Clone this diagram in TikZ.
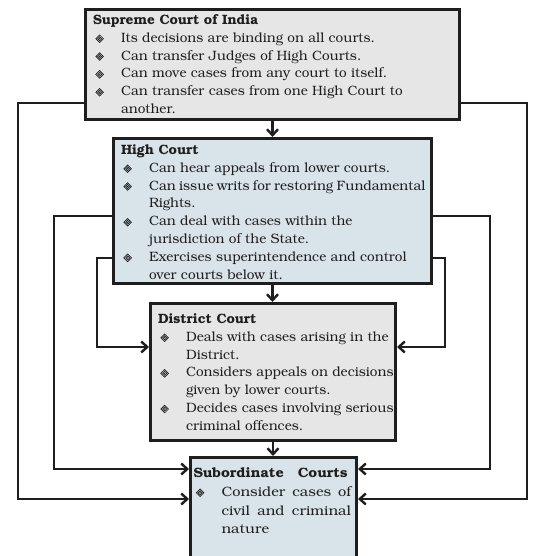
\documentclass[tikz,border=0pt]{standalone}
\usepackage[T1]{fontenc}
\usepackage{bookman}
\usepackage{graphicx}
\usetikzlibrary{arrows.meta,calc}
\definecolor{gbox}{HTML}{E6E6E6}
\definecolor{bbox}{HTML}{D9E3EA}
\definecolor{ink}{HTML}{1E1E1E}
\newcommand\diam{\tikz[baseline={(0,-3.6)},x=1bp,y=1bp,line width=0.7bp]{\draw[ink] (0,3.8)--(3.8,0)--(0,-3.8)--(-3.8,0)--cycle; \draw[ink] (0,2)--(2,0)--(0,-2)--(-2,0)--cycle; \fill[ink] (0,0) circle (0.7);}}
\newcommand\bul{\makebox[28bp][l]{\hspace{2.5bp}\diam}}
\newcommand\ind{\hspace*{28bp}}
\newcommand\wide[2]{\scalebox{#1}[1]{#2}}
\newcommand\cbody[4]{\parbox[c][#2][t]{#1}{\vspace*{#3}\begin{tabular}[t]{@{}l@{}}#4\end{tabular}}}
\tikzset{
  courtbox/.style={draw=ink, line width=3bp, anchor=north west, inner sep=0pt,
    font=\fontsize{13.6}{17.9}\selectfont, text=ink},
  conn/.style={draw=ink, line width=2.4bp, -{Straight Barb[length=6bp,width=11bp]}}
}
\begin{document}
\begin{tikzpicture}[x=1bp,y=1bp]
\useasboundingbox (0,0) rectangle (535,556);
\clip (0,0) rectangle (535,556);
\fill[white] (0,0) rectangle (535,556);

\node[courtbox, fill=gbox, minimum width=374bp, minimum height=110bp] (sc) at (84,548)
 {\cbody{359bp}{108bp}{1.5bp}{%
 \textbf{Supreme Court of India}\\
 \bul Its decisions are binding on all courts.\\
 \bul Can transfer Judges of High Courts.\\
 \bul Can move cases from any court to itself.\\
 \bul Can transfer cases from one High Court to\\
 \ind another.}};

\node[courtbox, fill=bbox, minimum width=318bp, minimum height=145bp] (hc) at (112,419)
 {\cbody{303bp}{143bp}{2.5bp}{%
 \textbf{High Court}\\
 \bul Can hear appeals from lower courts.\\
 \bul \makebox[273bp][s]{Can issue writs for restoring Fundamental}\\
 \ind Rights.\\
 \bul Can deal with cases within the\\
 \ind jurisdiction of the State.\\
 \bul Exercises superintendence and control\\
 \ind over courts below it.}};

\node[courtbox, fill=gbox, minimum width=245bp, minimum height=137bp] (dc) at (149,254)
 {\cbody{230bp}{135bp}{6.5bp}{%
 \textbf{District Court}\\
 \bul Deals with cases arising in the\\
 \ind District.\\
 \bul Considers appeals on decisions\\
 \ind given by lower courts.\\
 \bul Decides cases involving serious\\
 \ind criminal offences.}};

\node[courtbox, fill=bbox, minimum width=166bp, minimum height=130bp] (sb) at (189,100)
 {\cbody{160bp}{128bp}{6.5bp}{%
 \makebox[154bp][s]{\wide{1.06}{\textbf{Subordinate}}\hfill\wide{1.06}{\textbf{Courts}}}\\[1bp]
 \bul\wide{1.08}{\makebox[120bp][s]{Consider cases of}}\\[1bp]
 \ind\wide{1.08}{\makebox[120bp][s]{civil and criminal}}\\[1bp]
 \ind\wide{1.08}{nature}}};

% vertical chain
\draw[conn] (sc.south) -- (sc.south |- hc.north);
\draw[conn] (hc.south) -- (hc.south |- dc.north);
\draw[conn] (dc.south) -- (dc.south |- sb.north);

% Supreme -> Subordinate (outer)
\draw[conn] (sc.west |- 0,453) -| (18,57) -- (sb.west |- 0,57);
\draw[conn] (sc.east |- 0,453) -| (527,57) -- (sb.east |- 0,57);

% High -> Subordinate (middle)
\draw[conn] (hc.west |- 0,340) -| (54,87) -- (sb.west |- 0,87);
\draw[conn] (hc.east |- 0,340) -| (490,87) -- (sb.east |- 0,87);

% High -> District (inner)
\draw[conn] (hc.west |- 0,298) -| (97,209) -- (dc.west |- 0,209);
\draw[conn] (hc.east |- 0,298) -| (445,209) -- (dc.east |- 0,209);
\end{tikzpicture}
\end{document}
